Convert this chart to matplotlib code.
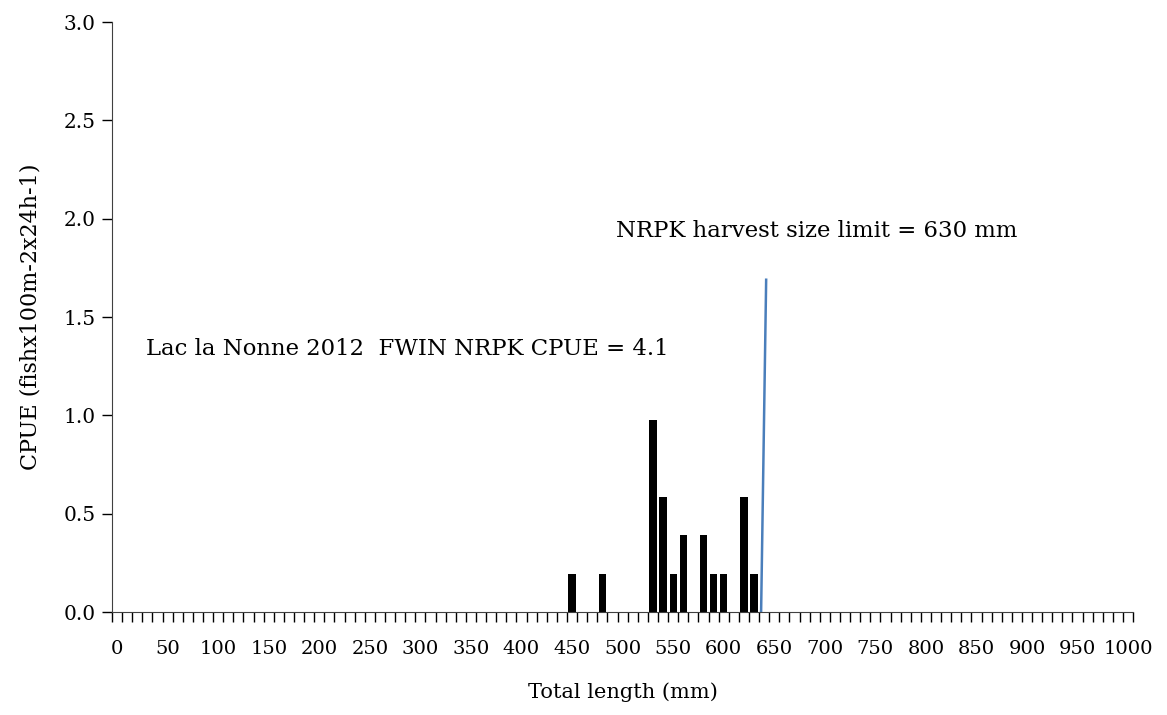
import matplotlib
matplotlib.use('Agg')
import matplotlib.pyplot as plt
import numpy as np

# length classes 0..1000 mm in 10 mm bins
length_bins = list(range(0, 1001, 10))
catch_lengths = [450, 480, 530, 540, 550, 560, 580, 590, 600, 620, 630]
catch_cpue = [0.195, 0.195, 0.975, 0.585, 0.195, 0.39, 0.39, 0.195, 0.195, 0.585, 0.195]

# harvest limit line (mm, CPUE)
limit_x = [637, 642]
limit_y = [0.0, 1.69]

tick_labels = [str(v) if v % 50 == 0 else '' for v in length_bins]

plt.rcParams['font.family'] = ['DejaVu Serif']

fig = plt.figure(figsize=(11.67, 7.15), dpi=100)
ax = fig.add_axes([0.096, 0.144, 0.875, 0.825])

values = np.zeros(len(length_bins))
for L, c in zip(catch_lengths, catch_cpue):
    values[length_bins.index(L)] = c
idx = np.arange(len(length_bins))
ax.bar(idx, values, width=0.72, color='black')

ax.plot(np.array(limit_x) / 10, limit_y, color='#4a7ebb', linewidth=1.8)

ax.set_xlim(-0.5, len(length_bins) - 0.5)
ax.set_ylim(0, 3.0)
ax.set_yticks(np.arange(0, 3.01, 0.5))
ax.set_yticklabels([f'{v:.1f}' for v in np.arange(0, 3.01, 0.5)], fontsize=14.5)

ax.set_xticks(idx)
ax.set_xticklabels(tick_labels, fontsize=14)
ax.tick_params(axis='x', length=0, pad=20)
ax.set_xticks(np.arange(-0.5, len(length_bins)), minor=True)
ax.tick_params(axis='x', which='minor', length=7, direction='out', width=1)
ax.tick_params(axis='y', length=7, direction='out', width=1, pad=5)

for s in ['top', 'right']:
    ax.spines[s].set_visible(False)
ax.spines['left'].set_color('#404040')
ax.spines['bottom'].set_color('#404040')

ax.set_xlabel('Total length (mm)', fontsize=15, labelpad=18)
ax.set_ylabel('CPUE (fishx100m-2x24h-1)', fontsize=16, labelpad=16)

ax.text(2.9, 1.34, 'Lac la Nonne 2012  FWIN NRPK CPUE = 4.1', fontsize=16.4, va='center')
ax.text(49.3, 1.94, 'NRPK harvest size limit = 630 mm', fontsize=16.4, va='center')

plt.savefig('out.png', dpi=100)
